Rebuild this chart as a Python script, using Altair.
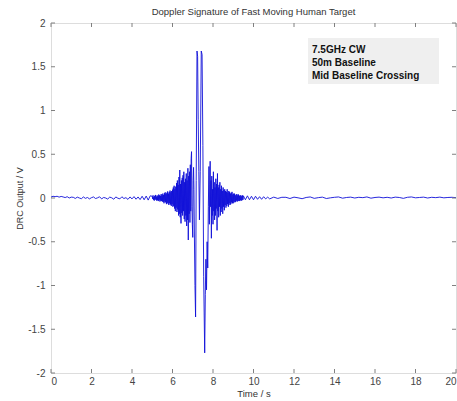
import altair as alt
import pandas as pd

# ---- data ----
t_base = [0.0, 0.1, 0.2, 0.3, 0.4, 0.5, 0.6, 0.7, 0.8, 0.9, 1.0, 1.1, 1.2, 1.3, 1.4, 1.5,
          1.6, 1.7, 1.8, 1.9, 2.0, 2.1, 2.2, 2.3, 2.4, 2.5, 2.6, 2.7, 2.8, 2.9, 3.0, 3.1,
          3.2, 3.3, 3.4, 3.5, 3.6, 3.7, 3.8, 3.9, 4.0, 4.1, 4.2, 4.3, 4.4, 4.5, 4.6, 4.7,
          4.8, 4.9]
v_base = [0.01, 0.02, 0.015, 0.02, 0.01, 0.018, 0.012, 0.005, 0.015, 0.0, 0.01, 0.008, -0.005,
          0.01, 0.0, -0.008, 0.012, -0.004, 0.006, -0.01, 0.004, 0.012, -0.006, 0.002, 0.014,
          -0.01, 0.006, 0.0, -0.012, 0.01, 0.002, -0.014, 0.012, -0.002, -0.01, 0.014, -0.006,
          0.004, -0.016, 0.012, -0.01, 0.016, -0.014, 0.012, -0.018, 0.02, -0.02, 0.022, -0.024,
          0.025]

t_pre = [5.00, 5.02, 5.04, 5.06, 5.08, 5.10, 5.12, 5.14, 5.16, 5.18, 5.20, 5.22, 5.24, 5.26,
         5.28, 5.30, 5.32, 5.34, 5.36, 5.38, 5.40, 5.42, 5.44, 5.46, 5.48, 5.50,
         5.52, 5.54, 5.56, 5.58, 5.60, 5.62, 5.64, 5.66, 5.68, 5.70, 5.72, 5.74, 5.76, 5.78,
         5.80, 5.82, 5.84, 5.86, 5.88, 5.90, 5.92, 5.94, 5.96, 5.98, 6.00,
         6.02, 6.04, 6.06, 6.08, 6.10, 6.12, 6.14, 6.16, 6.18, 6.20, 6.22, 6.24, 6.26, 6.28,
         6.30, 6.32, 6.34, 6.36, 6.38, 6.40, 6.42, 6.44, 6.46, 6.48, 6.50,
         6.52, 6.54, 6.56, 6.58, 6.60, 6.62, 6.64, 6.66, 6.68, 6.70, 6.72, 6.74, 6.76, 6.78,
         6.80, 6.82, 6.84, 6.86, 6.88, 6.90, 6.92, 6.94, 6.96, 6.98, 7.00, 7.02, 7.04, 7.06]
v_pre = [0.02, -0.01, 0.03, -0.02, 0.01, -0.03, 0.025, -0.015, 0.035, -0.02, 0.015, -0.03,
         0.03, -0.025, 0.02, -0.035, 0.04, -0.02, 0.03, -0.04, 0.025, -0.03, 0.045, -0.035,
         0.03, -0.04,
         0.05, -0.045, 0.035, -0.06, 0.055, -0.04, 0.065, -0.05, 0.045, -0.07, 0.06, -0.055,
         0.075, -0.065, 0.05, -0.08, 0.07, -0.06, 0.085, -0.075, 0.065, -0.09, 0.08, -0.07,
         0.095,
         -0.1, 0.12, -0.09, 0.14, -0.12, 0.1, -0.15, 0.13, -0.11, 0.17, -0.16, 0.2, -0.13, 0.15,
         -0.2, 0.24, -0.18, 0.32, -0.22, 0.16, -0.29, 0.2, -0.17, 0.23, -0.2,
         0.26, -0.15, 0.3, -0.24, 0.18, -0.27, 0.22, -0.2, 0.28, -0.32, 0.2, -0.25, 0.34, -0.48,
         0.25, -0.18, 0.3, -0.28, 0.38, -0.15, 0.45, 0.53, -0.1, -0.3, -0.45, 0.2, 0.35, 0.1]

t_main = [7.08, 7.11, 7.14, 7.17, 7.21, 7.24, 7.27, 7.30, 7.33, 7.37, 7.42, 7.46, 7.50, 7.54,
          7.59, 7.62, 7.65, 7.68, 7.71, 7.74, 7.77]
v_main = [-0.4, -1.0, -1.36, 0.2, 1.68, 1.62, 0.9, 0.3, -0.25, 0.3, 1.68, 1.64, 0.6, -0.9,
          -1.77, -1.1, -0.7, -1.05, -0.5, -0.8, -0.1]

t_post = [7.80, 7.82, 7.84, 7.86, 7.88, 7.90, 7.92, 7.94, 7.96, 7.98, 8.00, 8.02, 8.04, 8.06,
          8.08, 8.10, 8.12, 8.14, 8.16, 8.18, 8.20,
          8.22, 8.24, 8.26, 8.28, 8.30, 8.32, 8.34, 8.36, 8.38, 8.40, 8.42, 8.44, 8.46, 8.48,
          8.50, 8.52, 8.54, 8.56, 8.58, 8.60,
          8.62, 8.64, 8.66, 8.68, 8.70, 8.72, 8.74, 8.76, 8.78, 8.80, 8.82, 8.84, 8.86, 8.88,
          8.90, 8.92, 8.94, 8.96, 8.98, 9.00,
          9.02, 9.04, 9.06, 9.08, 9.10, 9.12, 9.14, 9.16, 9.18, 9.20, 9.22, 9.24, 9.26, 9.28,
          9.30, 9.32, 9.34, 9.36, 9.38, 9.40, 9.42, 9.44, 9.46, 9.48, 9.50]
v_post = [0.36, -0.3, 0.15, 0.42, -0.1, 0.2, -0.46, 0.25, -0.2, 0.1, -0.3, 0.3, -0.15, 0.18,
          -0.25, 0.12, -0.2, 0.22, -0.12, 0.16, -0.37,
          0.28, -0.15, 0.12, -0.22, 0.15, -0.1, 0.18, -0.2, 0.1, -0.16, 0.14, -0.12, 0.08,
          -0.18, 0.12, -0.1, 0.09, -0.14, 0.1, -0.08,
          0.08, -0.11, 0.07, -0.09, 0.1, -0.07, 0.06, -0.1, 0.08, -0.06, 0.07, -0.08, 0.05,
          -0.07, 0.06, -0.05, 0.07, -0.06, 0.04, -0.06,
          0.05, -0.04, 0.05, -0.05, 0.03, -0.045, 0.04, -0.03, 0.045, -0.04, 0.03, -0.035,
          0.04, -0.03, 0.025, -0.035, 0.03, -0.025, 0.03, -0.03, 0.02, -0.025, 0.03, -0.02,
          0.025]

t_tail = [9.6, 9.7, 9.8, 9.9, 10.0, 10.1, 10.2, 10.3, 10.4, 10.5, 10.6, 10.7, 10.8, 11.0,
          11.2, 11.4, 11.6, 11.8, 12.0, 12.2, 12.4, 12.6, 12.8, 13.0, 13.2, 13.4, 13.6, 13.8,
          14.0, 14.2, 14.4, 14.6, 14.8, 15.0, 15.2, 15.4, 15.6, 15.8, 16.0, 16.2, 16.4, 16.6,
          16.8, 17.0, 17.2, 17.4, 17.6, 17.8, 18.0, 18.2, 18.4, 18.6, 18.8, 19.0, 19.2, 19.4,
          19.6, 19.8, 20.0]
v_tail = [-0.02, 0.025, -0.02, 0.02, -0.02, 0.02, -0.015, 0.015, -0.015, 0.015, -0.01, 0.01,
          -0.01, 0.01, -0.005, 0.008, 0.008, -0.006, 0.01, 0.002, -0.008, 0.006, 0.012,
          -0.004, 0.004, 0.01, -0.006, 0.002, 0.008, 0.012, -0.002, 0.006, 0.01, 0.0, 0.008,
          0.004, 0.012, -0.002, 0.006, 0.01, 0.002, 0.008, 0.0, 0.01, 0.006, -0.004, 0.008,
          0.012, 0.002, 0.006, 0.01, 0.0, 0.008, 0.004, 0.01, 0.002, 0.006, 0.008, 0.004]

x_ticks = [0, 2, 4, 6, 8, 10, 12, 14, 16, 18, 20]
y_ticks = [-2, -1.5, -1, -0.5, 0, 0.5, 1, 1.5, 2]
note_lines = ["7.5GHz CW", "50m Baseline", "Mid Baseline Crossing"]

chart_title = "Doppler Signature of Fast Moving Human Target"
x_title = "Time / s"
y_title = "DRC Output / V"

# ---- build tables ----
t_all = t_base + t_pre + t_main + t_post + t_tail
v_all = v_base + v_pre + v_main + v_post + v_tail
df = pd.DataFrame({"t": t_all, "v": v_all})
xt_df = pd.DataFrame({"t": x_ticks})
yt_df = pd.DataFrame({"v": y_ticks})

W, H = 405, 350
FONT = "Liberation Sans"
AX = "#808080"
LAB = "#444444"
TICK = 4

xs = alt.Scale(domain=[0, 20], nice=False, zero=False)
ys = alt.Scale(domain=[-2, 2], nice=False, zero=False)

x_axis = alt.Axis(orient="bottom", values=x_ticks, ticks=False, domain=False,
                  grid=False, labelFont=FONT, labelFontSize=10, labelColor=LAB,
                  labelPadding=3, labelExpr="datum.value + ''",
                  titleFont=FONT, titleFontSize=9.5,
                  titleFontWeight="normal", titleColor="#333333", titlePadding=2)
y_axis = alt.Axis(orient="left", values=y_ticks, ticks=False, domain=False,
                  grid=False, labelFont=FONT, labelFontSize=10, labelColor=LAB,
                  labelPadding=6, labelExpr="datum.value + ''",
                  titleFont=FONT, titleFontSize=9,
                  titleFontWeight="normal", titleColor="#333333", titlePadding=3)

X = alt.X("t:Q", scale=xs, title=x_title, axis=x_axis)
Y = alt.Y("v:Q", scale=ys, title=y_title, axis=y_axis)

line = alt.Chart(df).mark_line(color="#1010d8", strokeWidth=0.9, clip=True).encode(
    x=X, y=Y)

# inward tick marks on all four edges
tick_bottom = alt.Chart(xt_df).mark_rule(color=AX, strokeWidth=1).encode(
    x=X, y=alt.value(H), y2=alt.value(H - TICK))
tick_top = alt.Chart(xt_df).mark_rule(color=AX, strokeWidth=1).encode(
    x=X, y=alt.value(0), y2=alt.value(TICK))
tick_left = alt.Chart(yt_df).mark_rule(color=AX, strokeWidth=1).encode(
    y=Y, x=alt.value(0), x2=alt.value(TICK))
tick_right = alt.Chart(yt_df).mark_rule(color=AX, strokeWidth=1).encode(
    y=Y, x=alt.value(W), x2=alt.value(W - TICK))

note_df = pd.DataFrame({"line": note_lines})
box = alt.Chart(note_df).transform_filter(
    alt.datum.line == note_lines[0]).mark_rect(color="#efefef").encode(
    x=alt.value(257), x2=alt.value(388), y=alt.value(15), y2=alt.value(61))

note_layers = []
for i, txt in enumerate(note_lines):
    note_layers.append(
        alt.Chart(note_df).transform_filter(alt.datum.line == txt).mark_text(
            align="left", baseline="alphabetic", font=FONT, fontSize=10,
            fontWeight="bold", color="#111111").encode(
            text="line:N", x=alt.value(261), y=alt.value(30 + 13 * i)))

chart = alt.layer(line, box, tick_bottom, tick_top, tick_left, tick_right,
                  *note_layers).properties(
    width=W, height=H,
    title=alt.TitleParams(chart_title, font=FONT, fontSize=9.5, fontWeight="normal",
                          color="#333333", anchor="middle", offset=2),
    autosize=alt.AutoSizeParams(type="none"),
    padding={"left": 51, "top": 23, "right": 1, "bottom": 28},
).configure_view(stroke=AX, strokeWidth=1.2).configure(background="white")

chart.save("out.html", embed_options={"renderer": "svg", "actions": False})
